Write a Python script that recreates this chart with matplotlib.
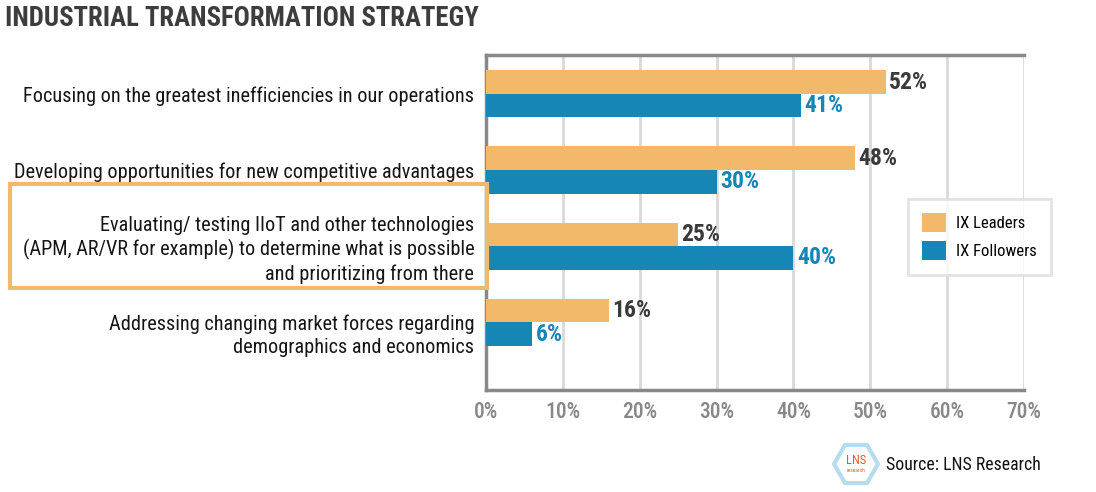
import matplotlib.pyplot as plt
import numpy as np
from matplotlib.patches import Rectangle, RegularPolygon
from matplotlib.transforms import ScaledTranslation

plt.rcParams['font.family'] = ['Roboto Condensed', 'DejaVu Sans']

categories = [
    'Focusing on the greatest inefficiencies in our operations',
    'Developing opportunities for new competitive advantages',
    'Evaluating/ testing IIoT and other technologies\n(APM, AR/VR for example) to determine what is possible\nand prioritizing from there',
    'Addressing changing market forces regarding\ndemographics and economics',
]
leaders = [52, 48, 25, 16]
followers = [41, 30, 40, 6]
xticks = [0, 10, 20, 30, 40, 50, 60, 70]

c_lead = '#F2B96A'
c_follow = '#1586B5'
dark = '#3a3a3a'

fig = plt.figure(figsize=(10.96, 4.92), dpi=100)
ax = fig.add_axes([0.4434, 0.2073, 0.4909, 0.6809])

y = np.arange(len(categories))
h = 0.31
ax.barh(y - h / 2, leaders, height=h, color=c_lead, label='IX Leaders', zorder=3)
ax.barh(y + h / 2, followers, height=h, color=c_follow, label='IX Followers', zorder=3)

for i in range(len(categories)):
    ax.text(leaders[i] + 0.45, y[i] - h / 2, f'{leaders[i]}%', va='center', ha='left',
            fontsize=17, fontweight='bold', color=dark, zorder=4)
    ax.text(followers[i] + 0.45, y[i] + h / 2, f'{followers[i]}%', va='center', ha='left',
            fontsize=17, fontweight='bold', color=c_follow, zorder=4)

ax.set_xlim(0, 70)
ax.set_ylim(3.89, -0.51)
ax.set_xticks(xticks)
ax.set_xticklabels([f'{t}%' for t in xticks], fontsize=15.5, color='#888888', fontweight='medium')
ax.set_yticks(y)
ax.set_yticklabels(categories, fontsize=14.6, color='#151515', linespacing=1.25)
ax.tick_params(length=0)
ax.tick_params(axis='x', pad=8)
ax.tick_params(axis='y', pad=8.5)
ax.grid(axis='x', color='#d9d9d9', linewidth=2, zorder=0)
for s in ['left', 'bottom', 'top']:
    ax.spines[s].set_color('#888888')
    ax.spines[s].set_linewidth(2.5)
ax.spines['right'].set_visible(False)

# last label sits a little lower in the original
lbl = ax.get_yticklabels()[3]
lbl.set_transform(lbl.get_transform() + ScaledTranslation(0, -0.1, fig.dpi_scale_trans))

leg = ax.legend(loc='center left', bbox_to_anchor=(0.784, 0.458), fontsize=12, frameon=True,
                fancybox=False, edgecolor='#dddddd', handlelength=1.45, handleheight=1.4,
                borderpad=0.85, labelspacing=0.55, handletextpad=0.6, borderaxespad=0)
leg.get_frame().set_linewidth(2)

# highlight box around the third label
fig.patches.append(Rectangle((10 / 1096, 1 - 288 / 492), 477 / 1096, 104 / 492,
                             transform=fig.transFigure, fill=False, edgecolor=c_lead,
                             linewidth=3))

fig.text(5 / 1096, 1 - 18 / 492, 'INDUSTRIAL TRANSFORMATION STRATEGY', fontsize=19.3,
         fontweight='bold', color='#3d3d3d', va='center', ha='left')

# source with logo
fig.patches.append(RegularPolygon((856 / 1096 * 10.96, (1 - 464 / 492) * 4.92), 6, radius=0.22,
                                  orientation=np.pi / 6, fill=False, edgecolor='#b8dcef',
                                  linewidth=3, transform=fig.dpi_scale_trans))
fig.text(856 / 1096, 1 - 461 / 492, 'LNS', fontsize=9, color='#e8572f', ha='center', va='center')
fig.text(856 / 1096, 1 - 470 / 492, 'research', fontsize=4, color='#e8572f', ha='center', va='center')
fig.text(886 / 1096, 1 - 465 / 492, 'Source: LNS Research', fontsize=12.8, color='#111111',
         ha='left', va='center')

fig.savefig('out.png', dpi=100)
